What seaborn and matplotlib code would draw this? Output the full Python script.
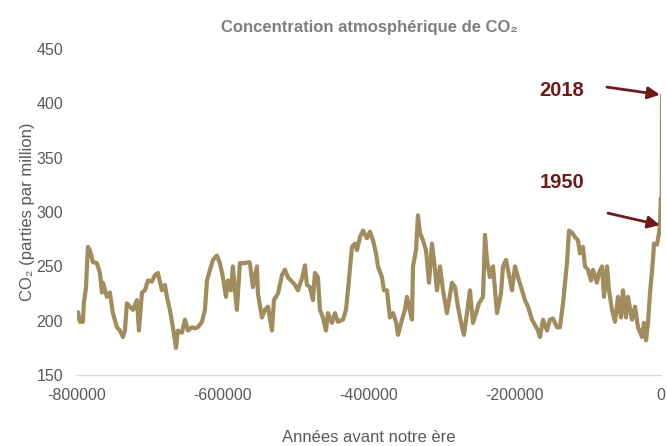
import pandas as pd
import numpy as np
import matplotlib
matplotlib.use('Agg')
import matplotlib.pyplot as plt
import seaborn as sns


# Ice core record (years before common era, ppm)
years = [-798700, -796000, -791900, -790500, -787700, -785000, -782300, -778200,
         -772700, -768600, -765800, -764500, -759000, -754900, -750800, -745300,
         -741200, -737100, -734300, -731600, -727500, -723400, -717900, -715100,
         -711000, -706900, -702800, -697300, -693200, -689100, -683600, -679500,
         -676800, -672700, -668600, -664400, -661700, -656200, -652100, -648000,
         -642500, -638400, -634300, -628800, -624700, -621900, -617800, -613700,
         -608300, -604200, -600100, -595900, -593200, -589100, -586400, -583600,
         -580900, -576800, -569900, -564400, -563100, -559000, -553500, -552100,
         -546600, -542500, -538400, -532900, -530200, -524700, -519200, -515100,
         -511000, -505500, -501400, -497300, -491800, -487700, -485000, -480900,
         -476800, -474000, -469900, -467200, -463100, -458900, -456200, -450700,
         -446600, -442500, -435600, -431500, -428800, -423300, -419200, -416500,
         -412300, -408200, -402800, -398700, -394500, -390400, -387700, -382200,
         -379500, -375400, -371300, -367100, -363000, -360300, -354800, -350700,
         -348000, -345200, -341100, -339700, -335600, -332900, -330200, -326000,
         -321900, -317800, -313700, -311000, -306900, -302700, -298600, -293200,
         -286300, -282200, -278100, -272600, -269900, -265800, -261700, -257500,
         -253400, -249300, -243800, -241100, -238400, -234300, -230100, -227400,
         -224700, -219200, -216400, -212300, -209600, -204100, -200000, -195900,
         -190400, -186300, -182200, -176700, -172600, -168500, -165800, -161600,
         -156200, -152100, -148000, -142500, -138400, -134200, -128800, -126000,
         -121900, -117800, -113700, -111000, -106900, -104100, -100000, -95900,
         -93200, -87700, -84900, -80800, -78100, -74000, -71200, -67100,
         -63000, -58900, -54800, -52100, -47900, -45200, -39700, -35600,
         -31500, -26000, -23300, -20500, -17800, -15100, -11000, -9600,
         -5500, -2700, -1400, -300]
co2 = [208, 199, 199, 217, 230, 268, 265, 254,
       253, 244, 226, 235, 222, 226, 207, 194,
       191, 185, 191, 216, 213, 210, 219, 191,
       226, 228, 237, 236, 242, 244, 228, 233,
       222, 210, 194, 175, 191, 189, 201, 191,
       194, 193, 194, 199, 210, 237, 247, 256,
       260, 253, 240, 222, 237, 228, 250, 228,
       210, 253, 253, 254, 253, 231, 250, 225,
       203, 210, 213, 191, 219, 225, 242, 247,
       240, 236, 233, 228, 239, 251, 233, 231,
       219, 244, 240, 210, 203, 191, 207, 198,
       207, 199, 201, 210, 228, 268, 271, 265,
       277, 283, 276, 282, 274, 262, 250, 240,
       228, 228, 203, 207, 199, 187, 201, 210,
       222, 213, 201, 250, 265, 297, 281, 274,
       265, 235, 271, 256, 228, 250, 228, 207,
       235, 231, 213, 194, 187, 207, 228, 198,
       207, 216, 222, 279, 256, 240, 250, 228,
       207, 225, 250, 256, 247, 228, 250, 240,
       228, 219, 213, 201, 196, 191, 185, 201,
       191, 201, 202, 194, 194, 216, 253, 283,
       281, 277, 274, 262, 268, 250, 247, 237,
       247, 235, 244, 250, 222, 250, 228, 210,
       199, 222, 203, 228, 203, 222, 201, 213,
       194, 185, 198, 182, 198, 225, 256, 271,
       270, 281, 288, 313]

# Modern measurements (1950 -> 2018)
modern_years = [-300, 0]
modern_co2 = [313, 408]

line_color = '#A08C5C'
note_color = '#6E1A1A'
grey = '#595959'

sns.set_style('white')
plt.rcParams['font.family'] = ['Liberation Sans', 'DejaVu Sans']

df = pd.DataFrame({'annee': years, 'co2': co2})
df_mod = pd.DataFrame({'annee': modern_years, 'co2': modern_co2})

fig = plt.figure(figsize=(6.67, 4.46), dpi=100)
ax = fig.add_axes([0.1154, 0.159, 0.8756, 0.731])

sns.lineplot(data=df, x='annee', y='co2', color=line_color, lw=3, ax=ax)
sns.lineplot(data=df_mod, x='annee', y='co2', color=line_color, lw=1.6, ax=ax)

ax.set_xlim(-800000, 0)
ax.set_ylim(150, 450)
ax.set_xticks([-800000, -600000, -400000, -200000, 0])
ax.set_xticklabels(['-800000', '-600000', '-400000', '-200000', '0'])
ax.set_yticks([150, 200, 250, 300, 350, 400, 450])
ax.tick_params(axis='both', colors=grey, labelsize=11.5, length=0)
ax.tick_params(axis='x', pad=9)
ax.tick_params(axis='y', pad=10)

for s in ['top', 'right', 'left']:
    ax.spines[s].set_visible(False)
ax.spines['bottom'].set_color('#D9D9D9')
ax.spines['bottom'].set_linewidth(1)

ax.set_xlabel('Années avant notre ère', color=grey, fontsize=12, labelpad=20)
ax.set_ylabel('CO₂ (parties par million)', color=grey, fontsize=12, labelpad=1)
ax.set_title('Concentration atmosphérique de CO₂', color='#7F7F7F',
             fontsize=12, fontweight='bold', pad=12)

# Annotations for 1950 and 2018
ax.text(-135500, 412, '2018', color=note_color, fontsize=14.5, fontweight='bold',
        ha='center', va='center')
ax.text(-135500, 327, '1950', color=note_color, fontsize=14.5, fontweight='bold',
        ha='center', va='center')
arrow = dict(arrowstyle='-|>', color=note_color, lw=2, mutation_scale=18,
             shrinkA=0, shrinkB=0)
ax.annotate('', xy=(-1400, 408), xytext=(-74000, 415), arrowprops=arrow)
ax.annotate('', xy=(-1400, 288), xytext=(-72600, 299), arrowprops=arrow)

fig.savefig('out.png', dpi=100)
